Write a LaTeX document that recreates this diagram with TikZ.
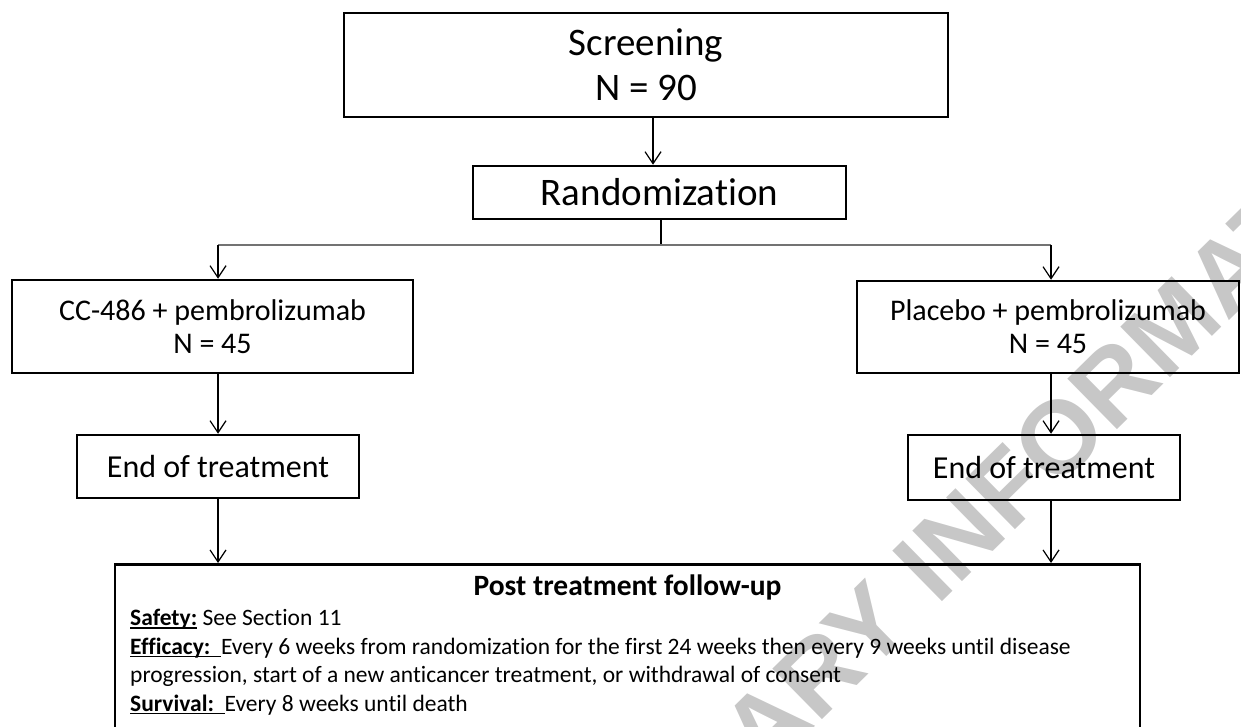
\documentclass[tikz,border=0pt]{standalone}
\usepackage{fontspec}
\setmainfont[Ligatures={NoCommon}]{Carlito}
\newfontfamily\wmfont{Liberation Sans}
\usetikzlibrary{arrows.meta}
\newcommand{\myul}[1]{{\setbox0\hbox{#1}\rlap{\rule[-3pt]{\wd0}{1.4pt}}\box0}}
\begin{document}
\begin{tikzpicture}[x=1pt,y=-1pt,
  boxnode/.style={draw=black, line width=2.5pt, inner sep=0pt, align=center, text=black},
  arr/.style={-{Straight Barb[length=12pt,width=16pt,line width=1.2pt]}, line width=1.2pt, black},
  plainline/.style={line width=1.2pt, black},
  splitline/.style={draw=black!55, line width=2pt},
  wmark/.style={text=black!22, font=\wmfont\bfseries\fontsize{103}{103}\selectfont, inner sep=0pt}]
\useasboundingbox (0,0) rectangle (1241,727);
\begin{scope}
\clip (0,0) rectangle (1241,727);
% watermark
\node[wmark, rotate=44.5] (wm) at (907,587) {PRELIMINARY INFORMATION};
% boxes
\node[boxnode, minimum width=604, minimum height=104, font=\fontsize{39}{45}\selectfont] (scr) at (646,65) {Screening\\N = 90};
\node[boxnode, minimum width=373, minimum height=53, font=\fontsize{39}{44}\selectfont] (rnd) at (659.5,192.5) {Randomization};
\node[boxnode, minimum width=401, minimum height=93, font=\fontsize{30}{33}\selectfont] (cc) at (212.5,326.5) {CC-486 + pembrolizumab\\N = 45};
\node[boxnode, minimum width=382, minimum height=92, font=\fontsize{30}{33}\selectfont] (pl) at (1048,327) {Placebo + pembrolizumab\\N = 45};
\node[boxnode, minimum width=282, minimum height=63, font=\fontsize{32}{36}\selectfont] (eotl) at (218,466.5) {End of treatment};
\node[boxnode, minimum width=272, minimum height=65, font=\fontsize{32}{36}\selectfont] (eotr) at (1044,467.5) {End of treatment};
\node[boxnode, minimum width=1025, minimum height=200, anchor=north] (post) at (627.5,563) {};
\node[anchor=base, inner sep=0pt, font=\bfseries\fontsize{29.5}{34}\selectfont] (posttitle) at (627.5,595) {Post treatment follow-up};
\node[anchor=base west, align=left, inner sep=0pt, font=\fontsize{23.5}{28.5}\selectfont] (postbody) at (130,711)
 {\myul{\textbf{Safety:}} See Section 11\\
  \myul{\textbf{Efficacy:}\ \ }Every 6 weeks from randomization for the first 24 weeks then every 9 weeks until disease\\
  progression, start of a new anticancer treatment, or withdrawal of consent\\
  \myul{\textbf{Survival:}\ \ }Every 8 weeks until death};
% connectors
\coordinate (a1) at (653,0);
\coordinate (a2) at (661,245);
\coordinate (sl) at (218,245);
\coordinate (sr) at (1051,245);
\draw[arr] (scr.south -| a1) -- (rnd.north -| a1);
\draw[plainline] (rnd.south -| a2) -- (a2);
\draw[splitline] (sl) -- (sr);
\draw[arr] (sl) -- (cc.north -| sl);
\draw[arr] (sr) -- (pl.north -| sr);
\draw[arr] (cc.south -| sl) -- (eotl.north -| sl);
\draw[arr] (pl.south -| sr) -- (eotr.north -| sr);
\draw[arr] (eotl.south -| sl) -- (post.north -| sl);
\draw[arr] (eotr.south -| sr) -- (post.north -| sr);
\end{scope}
\end{tikzpicture}
\end{document}
